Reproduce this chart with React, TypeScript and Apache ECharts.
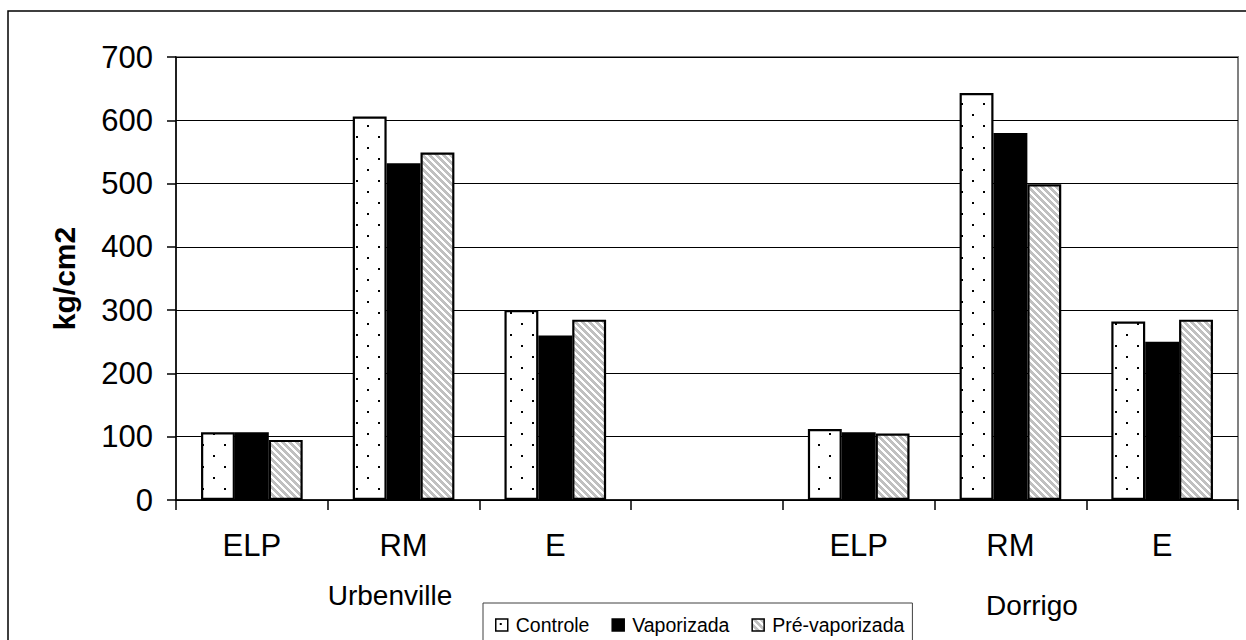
import React, { useEffect, useRef } from "react";
import * as echarts from "echarts";

const categories = ["ELP", "RM", "E", "", "ELP", "RM", "E"];
const controle = [107, 606, 300, "-", 112, 643, 282];
const vaporizada = [107, 532, 260, "-", 107, 580, 250];
const preVaporizada = [95, 549, 285, "-", 105, 499, 285];
const seriesNames = ["Controle", "Vaporizada", "Pré-vaporizada"];
const groupLabels = ["Urbenville", "Dorrigo"];
const yTicks = { min: 0, max: 700, interval: 100 };

const FONT = "'Liberation Sans', Arial, sans-serif";

function dotsPattern(): HTMLCanvasElement {
  const c = document.createElement("canvas");
  c.width = 22;
  c.height = 22;
  const ctx = c.getContext("2d")!;
  ctx.fillStyle = "#ffffff";
  ctx.fillRect(0, 0, 22, 22);
  ctx.fillStyle = "#000000";
  ctx.fillRect(4, 4, 2, 2);
  ctx.fillRect(15, 15, 2, 2);
  return c;
}

function stripePattern(): HTMLCanvasElement {
  const n = 7;
  const c = document.createElement("canvas");
  c.width = n;
  c.height = n;
  const ctx = c.getContext("2d")!;
  const img = ctx.createImageData(n, n);
  for (let y = 0; y < n; y++) {
    for (let x = 0; x < n; x++) {
      const i = (y * n + x) * 4;
      const gray = ((x - y + 14) % n) < 4;
      const v = gray ? 192 : 255;
      img.data[i] = v;
      img.data[i + 1] = v;
      img.data[i + 2] = v;
      img.data[i + 3] = 255;
    }
  }
  ctx.putImageData(img, 0, 0);
  return c;
}

export default function App() {
  const ref = useRef<HTMLDivElement>(null);
  useEffect(() => {
    if (!ref.current) return;
    const chart = echarts.init(ref.current, null, { renderer: "svg" });
    const dots = dotsPattern();
    const stripes = stripePattern();
    const fills: any[] = [
      { image: dots, repeat: "repeat", imageWidth: 22, imageHeight: 22 },
      "#000000",
      { image: stripes, repeat: "repeat", imageWidth: 7, imageHeight: 7 },
    ];
    const datas = [controle, vaporizada, preVaporizada];
    const option: any = {
      animation: false,
      backgroundColor: "#ffffff",
      grid: {
        left: 176,
        right: 8,
        top: 57,
        bottom: 140,
        show: true,
        borderColor: "#808080",
        borderWidth: 2,
        backgroundColor: "transparent",
      },
      legend: {
        data: seriesNames,
        left: 483,
        top: 603,
        orient: "horizontal",
        itemWidth: 12,
        itemHeight: 12,
        itemGap: 22,
        padding: [12, 8, 20, 12],
        borderColor: "#404040",
        borderWidth: 1,
        backgroundColor: "#ffffff",
        icon: "rect",
        itemStyle: { borderColor: "#000", borderWidth: 1.5 },
        textStyle: {
          fontFamily: FONT,
          fontSize: 19.5,
          color: "#000",
          padding: [0, 0, 0, 3],
        },
      },
      xAxis: {
        type: "category",
        data: categories,
        axisLine: { show: true, lineStyle: { color: "#000", width: 1.5 } },
        axisTick: {
          show: true,
          length: 10,
          interval: 0,
          lineStyle: { color: "#000", width: 1.5 },
        },
        axisLabel: {
          interval: 0,
          margin: 30,
          fontFamily: FONT,
          fontSize: 31,
          color: "#000",
        },
        splitLine: { show: false },
      },
      yAxis: {
        type: "value",
        min: yTicks.min,
        max: yTicks.max,
        interval: yTicks.interval,
        name: "kg/cm2",
        nameLocation: "middle",
        nameGap: 97,
        nameRotate: 90,
        nameTextStyle: {
          fontFamily: FONT,
          fontSize: 30,
          fontWeight: "bold",
          color: "#000",
        },
        axisLine: { show: true, lineStyle: { color: "#000", width: 1.5 } },
        axisTick: {
          show: true,
          length: 9,
          lineStyle: { color: "#000", width: 1.5 },
        },
        axisLabel: {
          margin: 23,
          fontFamily: FONT,
          fontSize: 31,
          color: "#000",
        },
        splitLine: { show: true, lineStyle: { color: "#000", width: 1 } },
      },
      series: seriesNames.map((name, i) => ({
        name,
        type: "bar",
        data: datas[i],
        barGap: "0%",
        barCategoryGap: "33%",
        itemStyle: {
          color: fills[i],
          borderColor: "#000",
          borderWidth: 2.2,
        },
        emphasis: { disabled: true },
      })),
      graphic: [
        {
          type: "rect",
          shape: { x: 8, y: 11, width: 1260, height: 660 },
          style: { fill: "none", stroke: "#000", lineWidth: 1.5 },
          silent: true,
          z: -10,
        },
        {
          type: "text",
          x: 390,
          y: 595,
          style: {
            text: groupLabels[0],
            fontFamily: FONT,
            fontSize: 28,
            fill: "#000",
            align: "center",
            verticalAlign: "middle",
          },
        },
        {
          type: "text",
          x: 1032,
          y: 605,
          style: {
            text: groupLabels[1],
            fontFamily: FONT,
            fontSize: 28,
            fill: "#000",
            align: "center",
            verticalAlign: "middle",
          },
        },
      ],
    };
    chart.setOption(option);
    return () => chart.dispose();
  }, []);
  return (
    <div
      ref={ref}
      style={{ position: "fixed", left: 0, top: 0, width: 1246, height: 640 }}
    />
  );
}
